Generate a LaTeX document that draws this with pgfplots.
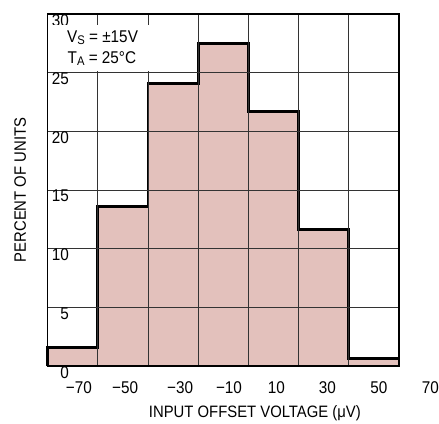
\documentclass[border=0pt]{standalone}
\usepackage{fontspec}
\setmainfont[FakeStretch=0.9]{Liberation Sans}
\usepackage{pgfplots}
\pgfplotsset{compat=1.18}
\usepackage{pgfplotstable}

\definecolor{barfill}{RGB}{227,193,188}

% percent of units per 20 uV bin (left edge, height); last row closes the interval
\pgfplotstableread{
x     y
-80   1.6
-60   13.6
-40   24.1
-20   27.5
0     21.7
20    11.65
40    0.65
60    0.65
}\histdata

\begin{document}
\begin{tikzpicture}
\fontsize{17}{20}\selectfont
\begin{axis}[
  scale only axis,
  width=351.5pt, height=352pt,
  xmin=-80, xmax=60, ymin=0, ymax=30,
  xtick={-80,-60,...,60}, xticklabels={},
  ytick={0,5,...,30}, yticklabels={0,5,10,15,20,25,30},
  xmajorgrids, ymajorgrids,
  grid style={black!80, line width=0.75pt},
  major tick length=0pt,
  axis line style={black, line width=1.2pt},
  axis on top,
  clip=false,
  tick label style={font=\fontsize{17}{20}\selectfont},
  yticklabel style={anchor=north east, inner sep=0pt, xshift=21.5pt, yshift=0pt},
  extra x ticks={-67.5,-49.1,-27.2,-7.7,11.2,31.5,52},
  extra x tick labels={−70,−50,−30,−10,10,30,50},
  extra x tick style={grid=none, xticklabel style={anchor=center, inner sep=0pt, yshift=-22pt}},
  xlabel={INPUT OFFSET VOLTAGE (μV)},
  ylabel={PERCENT OF UNITS},
  label style={font=\fontsize{16.5}{19}\selectfont},
  xlabel style={at={(axis description cs:0.59,-0.1335)}, anchor=center},
  ylabel style={at={(axis description cs:-0.078,0.5)}, anchor=center},
]
\addplot[ybar interval, fill=barfill, draw=none] table[x=x, y=y] {\histdata};
\addplot[const plot, black, line width=2.8pt] coordinates {
  (-80,0) (-80,1.6) (-60,13.6) (-40,24.1) (-20,27.5) (0,21.7) (20,11.65) (40,0.65) (60,0.65) (60,0)
};
\node[anchor=center, inner sep=0pt, yshift=-22pt] at (axis cs:72.5,0) {70};
\coordinate (boxnw) at (axis cs:-79.4,29.1);
\coordinate (sw) at (rel axis cs:0,0);
\coordinate (ne) at (rel axis cs:1,1);
\end{axis}
\node[fill=white, inner sep=0pt, minimum width=101pt, minimum height=46pt, anchor=north west] at (boxnw) {};
\node[anchor=base west, inner sep=0pt] at ([shift={(18pt,-17.5pt)}]boxnw)
  {V\raisebox{-2.6pt}{\fontsize{12.5}{12}\selectfont S} = ±15V};
\node[anchor=base west, inner sep=0pt] at ([shift={(18.5pt,-38.8pt)}]boxnw)
  {T\raisebox{-2.6pt}{\fontsize{12.5}{12}\selectfont A} = 25°C};
\pgfresetboundingbox
\path ([shift={(-47.5pt,-57pt)}]sw) rectangle ([shift={(40pt,14pt)}]ne);
\end{tikzpicture}
\end{document}
